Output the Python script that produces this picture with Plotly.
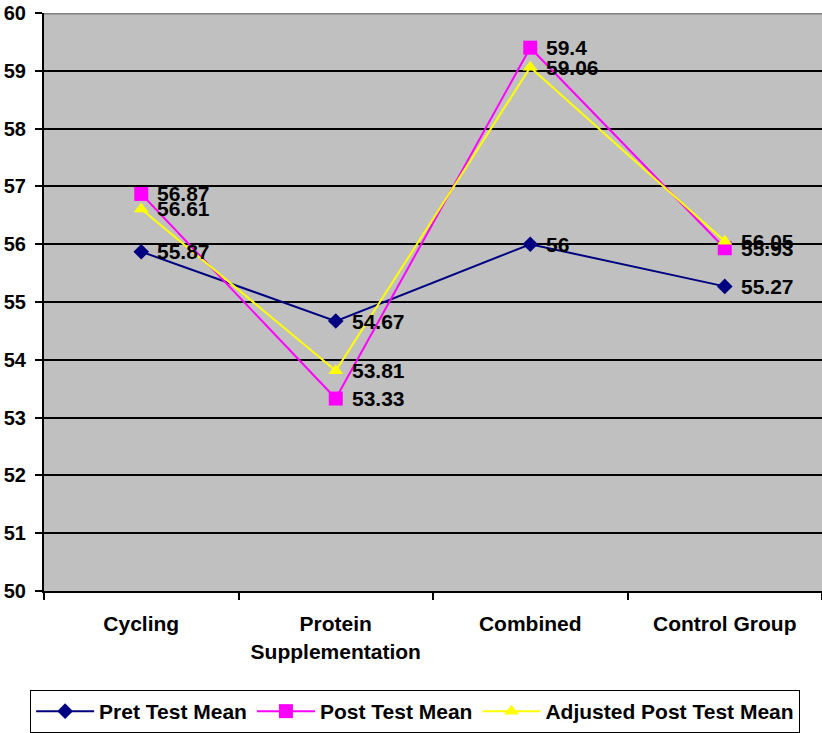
import plotly.graph_objects as go

categories = ["Cycling", "Protein<br>Supplementation", "Combined", "Control Group"]
pre_test = [55.87, 54.67, 56.0, 55.27]
post_test = [56.87, 53.33, 59.4, 55.93]
adjusted_post = [56.61, 53.81, 59.06, 56.05]
pre_labels = ["55.87", "54.67", "56", "55.27"]
post_labels = ["56.87", "53.33", "59.4", "55.93"]
adj_labels = ["56.61", "53.81", "59.06", "56.05"]
y_ticks = list(range(50, 61))

FONT = "Arial, Liberation Sans, sans-serif"
bold21 = dict(family=FONT, size=21, color="black", weight="bold")

fig = go.Figure()
series = [
    ("Pret Test Mean", pre_test, pre_labels, "#000080", "diamond", 12),
    ("Post Test Mean", post_test, post_labels, "#FF00FF", "square", 14),
    ("Adjusted Post Test Mean", adjusted_post, adj_labels, "#FFFF00", "triangle-up", 13),
]
for name, vals, labels, color, symbol, size in series:
    fig.add_trace(go.Scatter(
        x=categories, y=vals, name=name, mode="lines+markers",
        line=dict(color=color, width=2),
        marker=dict(symbol=symbol, size=size, color=color),
        cliponaxis=False,
    ))

# value labels to the right of each point
for name, vals, labels, color, symbol, size in series:
    for cat, v, lab in zip(categories, vals, labels):
        fig.add_annotation(
            x=cat, y=v, text=lab, showarrow=False,
            xanchor="left", yanchor="middle", xshift=14, yshift=0,
            font=bold21,
        )

fig.update_layout(
    width=822, height=733,
    margin=dict(l=44, r=0, t=13, b=140),
    paper_bgcolor="white", plot_bgcolor="#C0C0C0",
    font=dict(family=FONT, size=21, color="black"),
    showlegend=True,
    legend=dict(
        orientation="h", x=0.477, xanchor="center", y=-0.172, yanchor="top",
        bordercolor="black", borderwidth=1, bgcolor="white",
        font=bold21, itemwidth=58, tracegroupgap=0,
    ),
    xaxis=dict(
        type="category", range=[-0.5, 3.5], tickson="boundaries",
        ticks="outside", ticklen=7, tickwidth=2, tickcolor="black",
        showline=True, linecolor="black", linewidth=2, showgrid=False,
        tickfont=bold21, ticklabelstandoff=13,
    ),
    yaxis=dict(
        range=[50, 60], tickvals=y_ticks,
        ticks="outside", ticklen=7, tickwidth=2, tickcolor="black",
        showline=True, linecolor="black", linewidth=2,
        showgrid=True, gridcolor="black", gridwidth=2, zeroline=False,
        tickfont=dict(family=FONT, size=20, color="black", weight="bold"),
        ticklabelstandoff=5,
    ),
)
# grey border along the top edge of the plotting area
fig.add_shape(type="line", xref="paper", yref="y", x0=0, x1=1, y0=60, y1=60,
              line=dict(color="#808080", width=3), layer="above")

fig.write_html("out.html")
